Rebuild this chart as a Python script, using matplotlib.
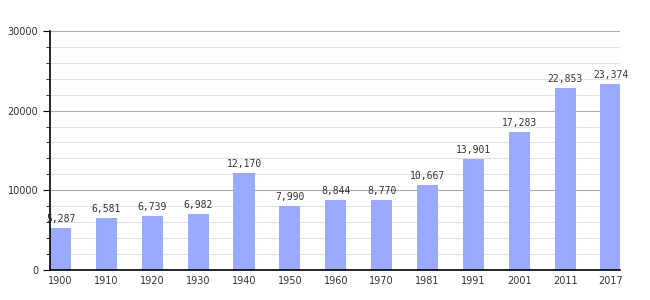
import matplotlib.pyplot as plt
from matplotlib.ticker import MultipleLocator

years = ["1900", "1910", "1920", "1930", "1940", "1950", "1960",
         "1970", "1981", "1991", "2001", "2011", "2017"]
population = [5287, 6581, 6739, 6982, 12170, 7990, 8844,
              8770, 10667, 13901, 17283, 22853, 23374]

fig = plt.figure(figsize=(6.5, 3), dpi=100)
ax = fig.add_axes([0.077, 0.1, 0.877, 0.797])

x = range(len(years))
ax.bar(x, population, width=0.46, color="#99aaff", zorder=2)

for i, v in enumerate(population):
    ax.text(i, v + 500, f"{v:,}", ha="center", va="bottom",
            fontsize=7, family="DejaVu Sans Mono", color="#333333")

ax.set_ylim(0, 30000)
ax.set_xlim(-0.23, 12.2)
ax.yaxis.set_major_locator(MultipleLocator(10000))
ax.yaxis.set_minor_locator(MultipleLocator(2000))
ax.grid(axis="y", which="major", color="#aaaaaa", linewidth=0.8, zorder=0)
ax.grid(axis="y", which="minor", color="#e0e0e0", linewidth=0.8, zorder=0)

ax.set_xticks(list(x))
ax.set_xticklabels(years)
ax.tick_params(axis="x", length=0, labelsize=7, pad=4, labelcolor="#333333")
ax.tick_params(axis="y", which="major", length=5, labelsize=7, labelcolor="#333333")
ax.tick_params(axis="y", which="minor", length=3)

for s in ["top", "right"]:
    ax.spines[s].set_visible(False)
ax.spines["left"].set_linewidth(1.2)
ax.spines["bottom"].set_linewidth(1.2)

fig.savefig("out.png")
